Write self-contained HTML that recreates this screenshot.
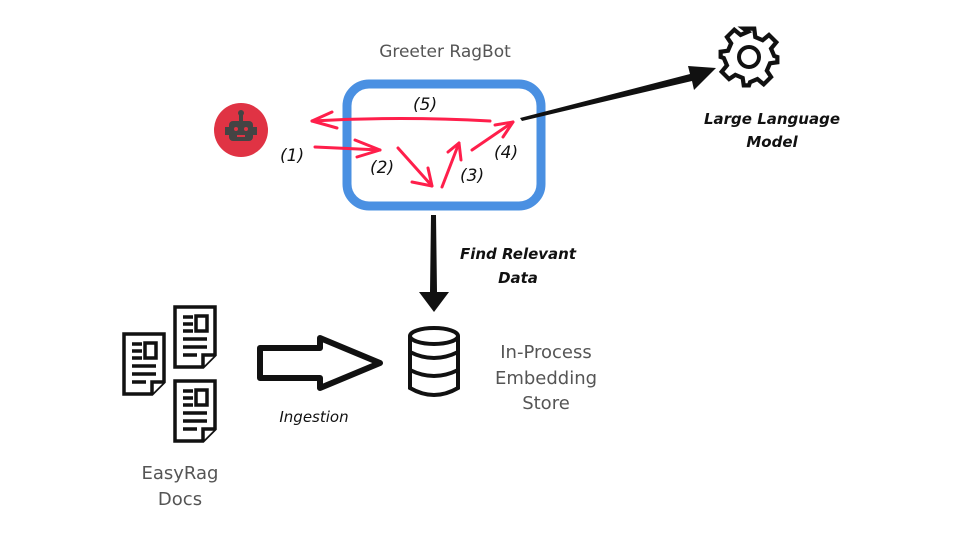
<!DOCTYPE html>
<html><head><style>
body{margin:0;background:#fff;}
.t{font-family:"DejaVu Sans","Liberation Sans",sans-serif;}
</style></head><body>
<svg width="960" height="540" viewBox="0 0 960 540" xmlns="http://www.w3.org/2000/svg">
<rect width="960" height="540" fill="#fff"/>
<text x="445" y="57" class="t" font-size="17" fill="#555" text-anchor="middle">Greeter RagBot</text>
<rect x="347" y="84" width="194" height="122" rx="22" fill="none" stroke="#4a90e2" stroke-width="9"/>
<circle cx="241" cy="130" r="27" fill="#e03344"/>
<rect x="229" y="121" width="24" height="20" rx="4" fill="#444"/>
<rect x="239" y="114" width="4" height="7" fill="#444"/><circle cx="241" cy="113" r="3" fill="#444"/>
<rect x="225" y="127" width="4" height="8" fill="#444"/><rect x="253" y="127" width="4" height="8" fill="#444"/>
<circle cx="236" cy="129" r="2" fill="#e03344"/><circle cx="246" cy="129" r="2" fill="#e03344"/>
<rect x="237" y="135" width="8" height="2" fill="#e03344"/>
<g stroke="#ff1f4b" stroke-width="3" fill="none" stroke-linecap="round" stroke-linejoin="round">
<path d="M490 121 Q400 116 312 121"/><path d="M332 112 L312 121 L337 128"/>
<path d="M315 147 L380 150"/><path d="M355 140 L380 150 L357 157"/>
<path d="M398 148 L432 186"/><path d="M412 182 L432 186 L428 168"/>
<path d="M442 187 L459 143"/><path d="M448 152 L459 143 L461 160"/>
<path d="M472 150 L513 122"/><path d="M495 125 L513 122 L503 137"/>
</g>
<g class="t" font-size="17" fill="#111" font-style="italic">
<text x="413" y="110">(5)</text>
<text x="280" y="161">(1)</text>
<text x="370" y="173">(2)</text>
<text x="460" y="181">(3)</text>
<text x="494" y="158">(4)</text>
</g>
<path d="M520 118 L690 74 L688 66 L716 68 L694 90 L692 81 L522 121 Z" fill="#111"/>
<g transform="translate(749,57)" fill="none" stroke="#111" stroke-width="4">
<path d="M-5,-27 L5,-27 L6,-19 L13,-16 L19,-21 L26,-14 L21,-8 L24,-1 L27,0 L27,5 L20,6 L17,13 L21,19 L14,26 L8,21 L1,24 L0,27 L-5,27 L-6,20 L-13,17 L-19,21 L-26,14 L-21,8 L-24,1 L-27,0 L-27,-5 L-20,-6 L-17,-13 L-21,-19 L-14,-26 L-8,-21 L-1,-24 Z" transform="scale(1.05)"/>
<circle r="10"/>
</g>
<g class="t" font-size="15" font-style="italic" font-weight="bold" fill="#111" text-anchor="middle">
<text x="772" y="124">Large Language</text>
<text x="772" y="147">Model</text>
<text x="518" y="259">Find Relevant</text>
<text x="518" y="283">Data</text>
<text x="314" y="422" font-weight="normal">Ingestion</text>
</g>
<path d="M431 215 L436 215 L437 292 L449 292 L434 312 L419 292 L430 292 Z" fill="#111"/>
<g fill="none" stroke="#111" stroke-width="4">
<ellipse cx="434" cy="336" rx="24" ry="8"/>
<path d="M410 336 L410 388 Q434 402 458 388 L458 336"/>
<path d="M410 352 Q434 364 458 352"/><path d="M410 370 Q434 382 458 370"/>
</g>
<g class="t" font-size="18" fill="#555" text-anchor="middle">
<text x="546" y="358">In-Process</text>
<text x="546" y="384">Embedding</text>
<text x="546" y="409">Store</text>
<text x="180" y="479">EasyRag</text>
<text x="180" y="505">Docs</text>
</g>
<path d="M260 348 L320 348 L320 338 L380 363 L320 388 L320 378 L260 378 Z" fill="#fff" stroke="#111" stroke-width="6" stroke-linejoin="round"/>
<g fill="#fff" stroke="#111" stroke-width="3.5">
<g transform="translate(124,334)"><path d="M0 0 L40 0 L40 48 L28 60 L0 60 Z"/><path d="M28 60 L28 48 L40 48"/>
<path d="M8 10 L18 10 M8 17 L18 17 M8 24 L18 24 M8 32 L32 32 M8 40 L32 40 M8 48 L22 48"/><rect x="21" y="9" width="11" height="15"/></g>
<g transform="translate(175,307)"><path d="M0 0 L40 0 L40 48 L28 60 L0 60 Z"/><path d="M28 60 L28 48 L40 48"/>
<path d="M8 10 L18 10 M8 17 L18 17 M8 24 L18 24 M8 32 L32 32 M8 40 L32 40 M8 48 L22 48"/><rect x="21" y="9" width="11" height="15"/></g>
<g transform="translate(175,381)"><path d="M0 0 L40 0 L40 48 L28 60 L0 60 Z"/><path d="M28 60 L28 48 L40 48"/>
<path d="M8 10 L18 10 M8 17 L18 17 M8 24 L18 24 M8 32 L32 32 M8 40 L32 40 M8 48 L22 48"/><rect x="21" y="9" width="11" height="15"/></g>
</g>
</svg>
</body></html>
